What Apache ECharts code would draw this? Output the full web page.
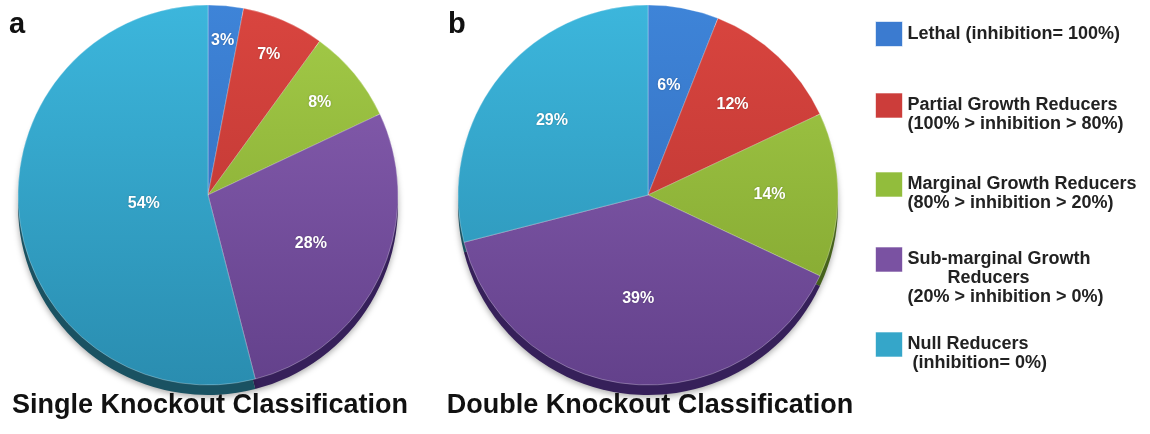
<!DOCTYPE html>
<html>
<head>
<meta charset="utf-8">
<script src="https://cdn.jsdelivr.net/npm/echarts@6/dist/echarts.min.js"></script>
<style>
  html, body { margin: 0; padding: 0; background: #ffffff; }
  #chart { width: 1150px; height: 434px; }
</style>
</head>
<body>
<div id="chart"></div>
<script>
// Gene classes, in the order they run clockwise from 12 o'clock
const categories = [
  'Lethal',
  'Partial Growth Reducers',
  'Marginal Growth Reducers',
  'Sub-marginal Growth Reducers',
  'Null Reducers'
];
const legendLabels = [
  'Lethal (inhibition= 100%)',
  'Partial Growth Reducers\n(100% > inhibition > 80%)',
  'Marginal Growth Reducers\n(80% > inhibition > 20%)',
  'Sub-marginal Growth\n        Reducers\n(20% > inhibition > 0%)',
  'Null Reducers\n (inhibition= 0%)'
];
// Share of genes (%) per class
const singleKnockout = [3, 7, 8, 28, 54];
const doubleKnockout = [6, 12, 14, 39, 29];
const panelTitles = ['Single Knockout Classification', 'Double Knockout Classification'];
const panelLetters = ['a', 'b'];

// ---- styling / layout ----
const FONT = '"Liberation Sans", Arial, Helvetica, sans-serif';
const faceTop    = ['#3e84d8', '#d9453f', '#a3cb48', '#8a60b3', '#3cb6dc'];
const faceBottom = ['#3067b5', '#b4322f', '#7fa12d', '#63418b', '#2a8db0'];
const rimColors  = ['#1c3a66', '#6a1b1a', '#46621c', '#36205a', '#1a5262'];
const legendColors = ['#3b7bd0', '#cc3d3a', '#92bd3c', '#7a52a2', '#35a6c9'];

const R = 190;
const RIM = 10;
const pies = [
  { values: singleKnockout, cx: 208, cy: 195, reach: [0.79, 0.78, 0.74, 0.58, 0.33] },
  { values: doubleKnockout, cx: 648, cy: 195, reach: [0.57, 0.63, 0.62, 0.53, 0.62] }
];

const legendLeft = 875;
const iconW = 27, iconH = 25, lineH = 19;
const iconTops = [21, 93, 172, 247, 332];

function faceGradient(i, cy) {
  return {
    type: 'linear', global: true,
    x: 0, y: cy - R, x2: 0, y2: cy + R,
    colorStops: [
      { offset: 0, color: faceTop[i] },
      { offset: 1, color: faceBottom[i] }
    ]
  };
}

const series = [];
pies.forEach(function (p, k) {
  // top face of the disc
  series.push({
    type: 'pie',
    name: panelTitles[k],
    center: [p.cx, p.cy],
    radius: [0, R],
    startAngle: 90,
    clockwise: true,
    z: 3,
    silent: true,
    emphasis: { disabled: true },
    itemStyle: { borderColor: 'rgba(255,255,255,0.28)', borderWidth: 1 },
    label: {
      show: true,
      position: 'inside',
      formatter: '{c}%',
      color: '#ffffff',
      fontFamily: FONT,
      fontWeight: 'bold',
      fontSize: 16,
      textShadowColor: 'rgba(0,0,0,0.25)',
      textShadowBlur: 2
    },
    labelLine: { show: false },
    labelLayout: function (params) {
      const r = params.labelRect;
      const lx = r.x + r.width / 2;
      const ly = r.y + r.height / 2;
      const f = p.reach[params.dataIndex] / 0.5 - 1;
      return { dx: (lx - p.cx) * f, dy: (ly - p.cy) * f };
    },
    data: categories.map(function (name, i) {
      return { name: name, value: p.values[i], itemStyle: { color: faceGradient(i, p.cy) } };
    })
  });
  // darker rim showing below the face
  series.push({
    type: 'pie',
    center: [p.cx, p.cy + RIM],
    radius: [0, R],
    startAngle: 90,
    clockwise: true,
    z: 1,
    silent: true,
    emphasis: { disabled: true },
    label: { show: false },
    labelLine: { show: false },
    itemStyle: {
      shadowColor: 'rgba(0,0,0,0.35)',
      shadowBlur: 6,
      shadowOffsetY: 2
    },
    data: categories.map(function (name, i) {
      return { name: name, value: p.values[i], itemStyle: { color: rimColors[i] } };
    })
  });
});

// One legend block per class. Legend text is centred on its square, so
// blank lines are put in front of multi-line labels to bring the first
// line level with the square.
const legends = categories.map(function (name, i) {
  const n = legendLabels[i].split('\n').length;
  const lead = new Array(n).join('\n');
  const overhang = Math.max(0, (2 * n - 1) * lineH / 2 - iconH / 2);
  return {
    orient: 'vertical',
    left: legendLeft,
    top: iconTops[i] - overhang,
    padding: 0,
    itemWidth: iconW,
    itemHeight: iconH,
    icon: 'rect',
    selectedMode: false,
    formatter: function () { return lead + legendLabels[i]; },
    textStyle: {
      fontFamily: FONT,
      fontWeight: 'bold',
      fontSize: 18,
      color: '#222222',
      lineHeight: lineH
    },
    data: [{ name: name, itemStyle: { color: legendColors[i], borderColor: 'rgba(255,255,255,0.6)', borderWidth: 1 } }]
  };
});

const titles = [];
pies.forEach(function (p, k) {
  titles.push({
    text: panelTitles[k],
    left: p.cx + 2,
    top: 392,
    textAlign: 'center',
    padding: 0,
    textStyle: { fontFamily: FONT, fontWeight: 'bold', fontSize: 27, color: '#111111' }
  });
  titles.push({
    text: panelLetters[k],
    left: k === 0 ? 9 : 448,
    top: 10,
    padding: 0,
    textStyle: { fontFamily: FONT, fontWeight: 'bold', fontSize: 29, color: '#111111' }
  });
});

const chart = echarts.init(document.getElementById('chart'), null, { renderer: 'canvas' });
chart.setOption({
  animation: false,
  backgroundColor: '#ffffff',
  title: titles,
  legend: legends,
  series: series
});
</script>
</body>
</html>
